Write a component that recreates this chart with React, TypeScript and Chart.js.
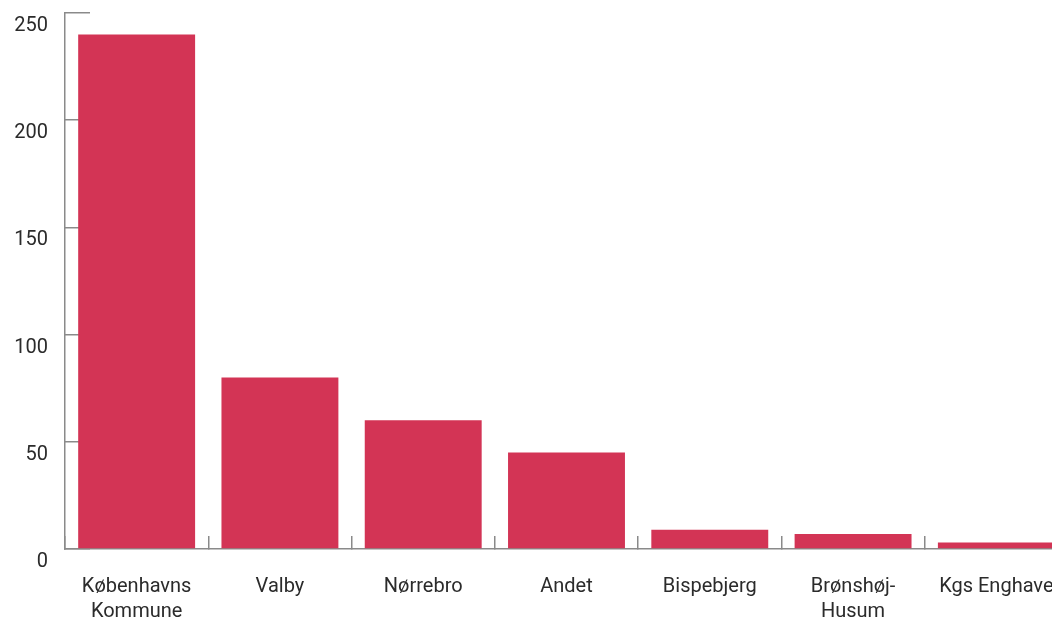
import React, { useEffect, useRef } from "react";
import { Chart, registerables } from "chart.js";

Chart.register(...registerables);

const categories: (string | string[])[] = [
  ["Københavns", "Kommune"],
  "Valby",
  "Nørrebro",
  "Andet",
  "Bispebjerg",
  ["Brønshøj-", "Husum"],
  "Kgs Enghave",
];
const values = [240, 80, 60, 45, 9, 7, 3];
const yTicks = [0, 50, 100, 150, 200, 250];

const BAR_COLOR = "#D33455";
const AXIS_COLOR = "#8a8a8a";
const TEXT_COLOR = "#2b2b2b";
const FONT_FAMILY = "Roboto, 'Liberation Sans', sans-serif";

export default function App() {
  const ref = useRef<HTMLCanvasElement | null>(null);

  useEffect(() => {
    if (!ref.current) return;
    const chart = new Chart(ref.current, {
      type: "bar",
      data: {
        labels: categories,
        datasets: [
          {
            data: values,
            backgroundColor: BAR_COLOR,
            borderWidth: 0,
            categoryPercentage: 1,
            barPercentage: 0.816,
          },
        ],
      },
      options: {
        animation: false,
        responsive: true,
        maintainAspectRatio: false,
        layout: { padding: { top: 13, right: 4, left: 0, bottom: 0 } },
        plugins: {
          legend: { display: false },
          tooltip: { enabled: false },
        },
        scales: {
          x: {
            grid: {
              display: true,
              offset: true,
              drawOnChartArea: false,
              drawTicks: true,
              tickLength: -13,
              color: AXIS_COLOR,
              lineWidth: 1.5,
            },
            border: { display: true, color: AXIS_COLOR, width: 1.5 },
            ticks: {
              color: TEXT_COLOR,
              font: { family: FONT_FAMILY, size: 20, lineHeight: 1.25 },
              padding: 38,
              maxRotation: 0,
              autoSkip: false,
            },
            afterFit: (s: any) => {
              s.height = 68;
              s.paddingLeft = 0;
              s.paddingRight = 0;
            },
          },
          y: {
            min: 0,
            max: 250,
            afterBuildTicks: (s: any) => {
              s.ticks = yTicks.map((v) => ({ value: v }));
            },
            grid: {
              display: true,
              drawOnChartArea: false,
              drawTicks: true,
              tickLength: -25,
              color: AXIS_COLOR,
              lineWidth: 1.5,
            },
            border: { display: true, color: AXIS_COLOR, width: 1.5 },
            ticks: {
              color: TEXT_COLOR,
              font: { family: FONT_FAMILY, size: 20 },
              padding: 42,
              labelOffset: 13,
            },
            afterFit: (s: any) => {
              s.width = 65;
              s.paddingTop = 0;
              s.paddingBottom = 0;
            },
          },
        },
      },
    });
    return () => chart.destroy();
  }, []);

  return (
    <div
      style={{
        position: "fixed",
        left: 0,
        top: 0,
        width: 1052,
        height: 617,
        overflow: "hidden",
        background: "#fff",
      }}
    >
      <div style={{ position: "relative", width: 1072, height: 617 }}>
        <canvas ref={ref} />
      </div>
    </div>
  );
}
